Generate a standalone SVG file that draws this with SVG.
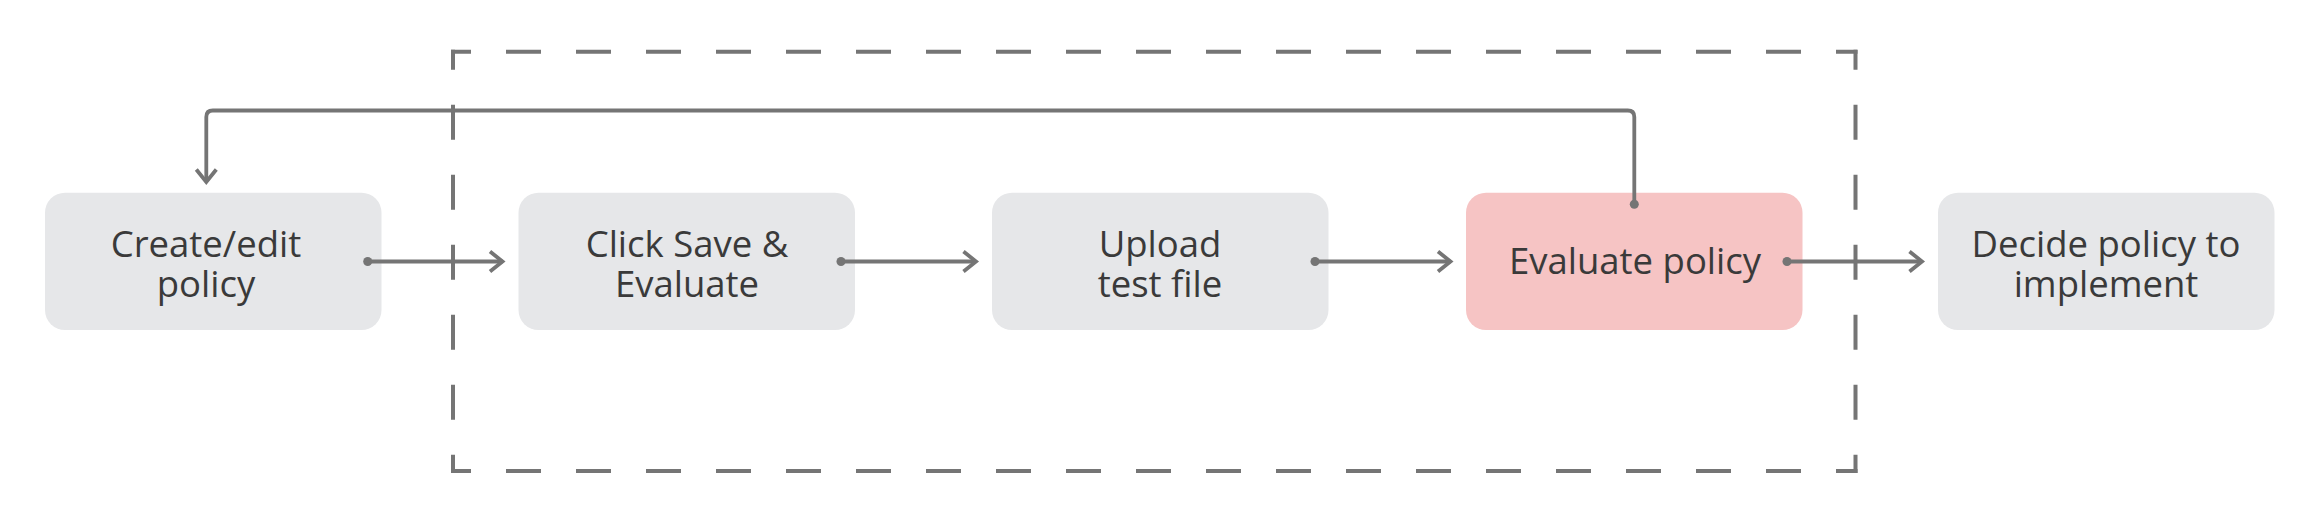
<svg xmlns="http://www.w3.org/2000/svg" width="2314" height="520" viewBox="0 0 2314 520">
  <style>
    .node { fill: #e6e7e9; }
    .hl { fill: #f6c4c4; }
    .label { font-family: "Open Sans", "Noto Sans", "Liberation Sans", sans-serif; font-size: 36.5px; fill: #3a3a3a; text-anchor: middle; }
    .conn { fill: none; stroke: #757575; stroke-width: 3.8; }
    .frame { fill: none; stroke: #757575; stroke-width: 4; stroke-dasharray: 31 39; stroke-dashoffset: 15; stroke-linecap: square; }
  </style>
  <defs>
    <marker id="arrow" markerUnits="userSpaceOnUse" viewBox="-16 -14 20 28" refX="0" refY="0" markerWidth="20" markerHeight="28" orient="auto">
      <path d="M-12.5,-10 L0,0 L-12.5,10" fill="none" stroke="#757575" stroke-width="3.8"/>
    </marker>
    <marker id="dot" markerUnits="userSpaceOnUse" viewBox="-6 -6 12 12" refX="0" refY="0" markerWidth="12" markerHeight="12" orient="auto">
      <circle cx="0" cy="0" r="4.5" fill="#757575"/>
    </marker>
  </defs>

  <g id="group-frame">
    <line class="frame" x1="453" y1="51.7" x2="1855.5" y2="51.7"/>
    <line class="frame" x1="1855.5" y1="51.7" x2="1855.5" y2="471"/>
    <line class="frame" x1="453" y1="471" x2="1855.5" y2="471"/>
    <line class="frame" x1="453" y1="51.7" x2="453" y2="471"/>
  </g>

  <g id="node-create">
    <rect class="node" x="45" y="192.7" width="336.5" height="137.3" rx="20"/>
    <text class="label" x="206" y="256.7">Create/edit<tspan x="206" dy="40">policy</tspan></text>
  </g>
  <g id="node-save">
    <rect class="node" x="518.5" y="192.7" width="336.5" height="137.3" rx="20"/>
    <text class="label" x="687" y="256.7">Click Save &amp;<tspan x="687" dy="40">Evaluate</tspan></text>
  </g>
  <g id="node-upload">
    <rect class="node" x="992" y="192.7" width="336.5" height="137.3" rx="20"/>
    <text class="label" x="1160" y="256.7">Upload<tspan x="1160" dy="40">test file</tspan></text>
  </g>
  <g id="node-evaluate">
    <rect class="hl" x="1466" y="192.7" width="336.5" height="137.3" rx="20"/>
    <text class="label" x="1635" y="274">Evaluate policy</text>
  </g>
  <g id="node-decide">
    <rect class="node" x="1938" y="192.7" width="336.5" height="137.3" rx="20"/>
    <text class="label" x="2106" y="256.7">Decide policy to<tspan x="2106" dy="40">implement</tspan></text>
  </g>

  <g id="connectors">
    <path class="conn" marker-start="url(#dot)" marker-end="url(#arrow)" d="M367.7,261.5 H502.5"/>
    <path class="conn" marker-start="url(#dot)" marker-end="url(#arrow)" d="M841,261.5 H976"/>
    <path class="conn" marker-start="url(#dot)" marker-end="url(#arrow)" d="M1315,261.5 H1450.5"/>
    <path class="conn" marker-start="url(#dot)" marker-end="url(#arrow)" d="M1787,261.5 H1922"/>
    <path class="conn" marker-start="url(#dot)" marker-end="url(#arrow)" d="M1634.3,204.3 V117 Q1634.3,110.5 1627.8,110.5 H212.8 Q206.3,110.5 206.3,117 V182"/>
  </g>
</svg>
